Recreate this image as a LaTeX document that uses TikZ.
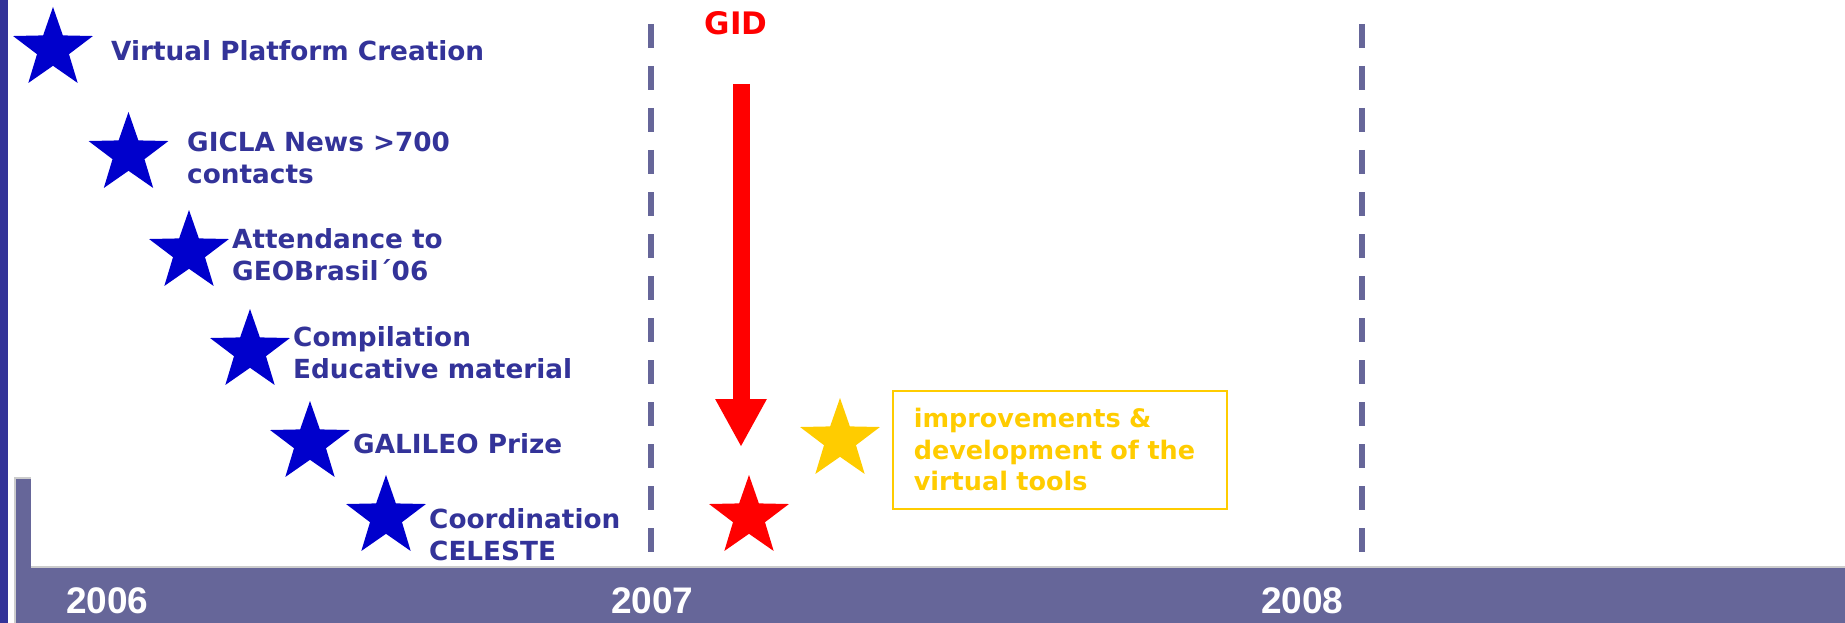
\documentclass[tikz,border=0pt]{standalone}
\usepackage{fontspec}
\setmainfont{DejaVu Sans}
\newfontfamily\yearfont{Liberation Sans}
\usetikzlibrary{shapes.geometric,arrows.meta}
\definecolor{navy}{HTML}{333399}
\definecolor{starblue}{HTML}{0000CC}
\definecolor{band}{HTML}{666699}
\definecolor{gold}{HTML}{FFCC00}
\begin{document}
\begin{tikzpicture}[x=1pt,y=-1pt,
    bstar/.style={star,star points=5,star point ratio=2.5,minimum size=84pt,inner sep=0pt,fill=starblue},
    lbl/.style={anchor=base west,inner sep=0pt,align=left,text=navy,font=\fontsize{26.3}{31.5}\selectfont\bfseries},
    yr/.style={anchor=base west,inner sep=0pt,text=white,font=\yearfont\fontsize{37}{40}\selectfont\bfseries},
    sep/.style={band,line width=6pt,dash pattern=on 24pt off 18pt}]
    \useasboundingbox (0,0) rectangle (1845,623);
    % bars and time band
    \fill[navy] (0,0) rectangle (8,623);
    \fill[band] (15,478) rectangle (31,623);
    \draw[gray!40,line width=1.5pt] (15,623)--(15,478)--(31,478);
    \fill[band] (31,567) rectangle (1845,623);
    \draw[gray!40,line width=2pt] (31,567)--(1845,567);
    \node[yr] at (66,613) (y6) {2006};
    \node[yr] at (611,613) (y7) {2007};
    \node[yr] at (1261,613) (y8) {2008};
    % year separators
    \draw[sep] (651,24)--(651,552);
    \draw[sep] (1362,24)--(1362,552);
    % milestones 2006 (two-line labels sit on their last baseline)
    \node[bstar] at (53,49) (s1) {};
    \node[bstar] at (128.5,154) (s2) {};
    \node[bstar] at (189,252) (s3) {};
    \node[bstar] at (250,351) (s4) {};
    \node[bstar] at (310,443) (s5) {};
    \node[bstar] at (386,517) (s6) {};
    \node[lbl] at (111,61) (t1) {Virtual Platform Creation};
    \node[lbl] at (187,183) (t2) {GICLA News >700\\contacts};
    \node[lbl] at (232,280) (t3) {Attendance to\\GEOBrasil´06};
    \node[lbl] at (293,378) (t4) {Compilation\\Educative material};
    \node[lbl] at (353,453) (t5) {GALILEO Prize};
    \node[lbl] at (429,560) (t6) {Coordination\\CELESTE};
    % 2007
    \node[anchor=base,inner sep=0pt,text=red,font=\fontsize{31}{34}\selectfont\bfseries] at (736,35) (gid) {GID};
    \coordinate (a1) at (741,84);
    \coordinate (a2) at (741,447);
    \draw[red,line width=17pt,-{Triangle[width=48pt,length=48pt]}] (a1)--(a2);
    \node[bstar,fill=red] at (749,517) (rstar) {};
    \node[bstar,fill=gold] at (840,440) (ystar) {};
    \node[draw=gold,line width=1.5pt,anchor=north west,minimum width=334pt,minimum height=118pt,
        inner xsep=21pt,text width=292pt,align=left,text=gold,
        font=\fontsize{25.5}{31.5}\selectfont\bfseries] at (892,390) (ybox)
        {improvements \&\\development of the\\virtual tools};
\end{tikzpicture}
\end{document}
